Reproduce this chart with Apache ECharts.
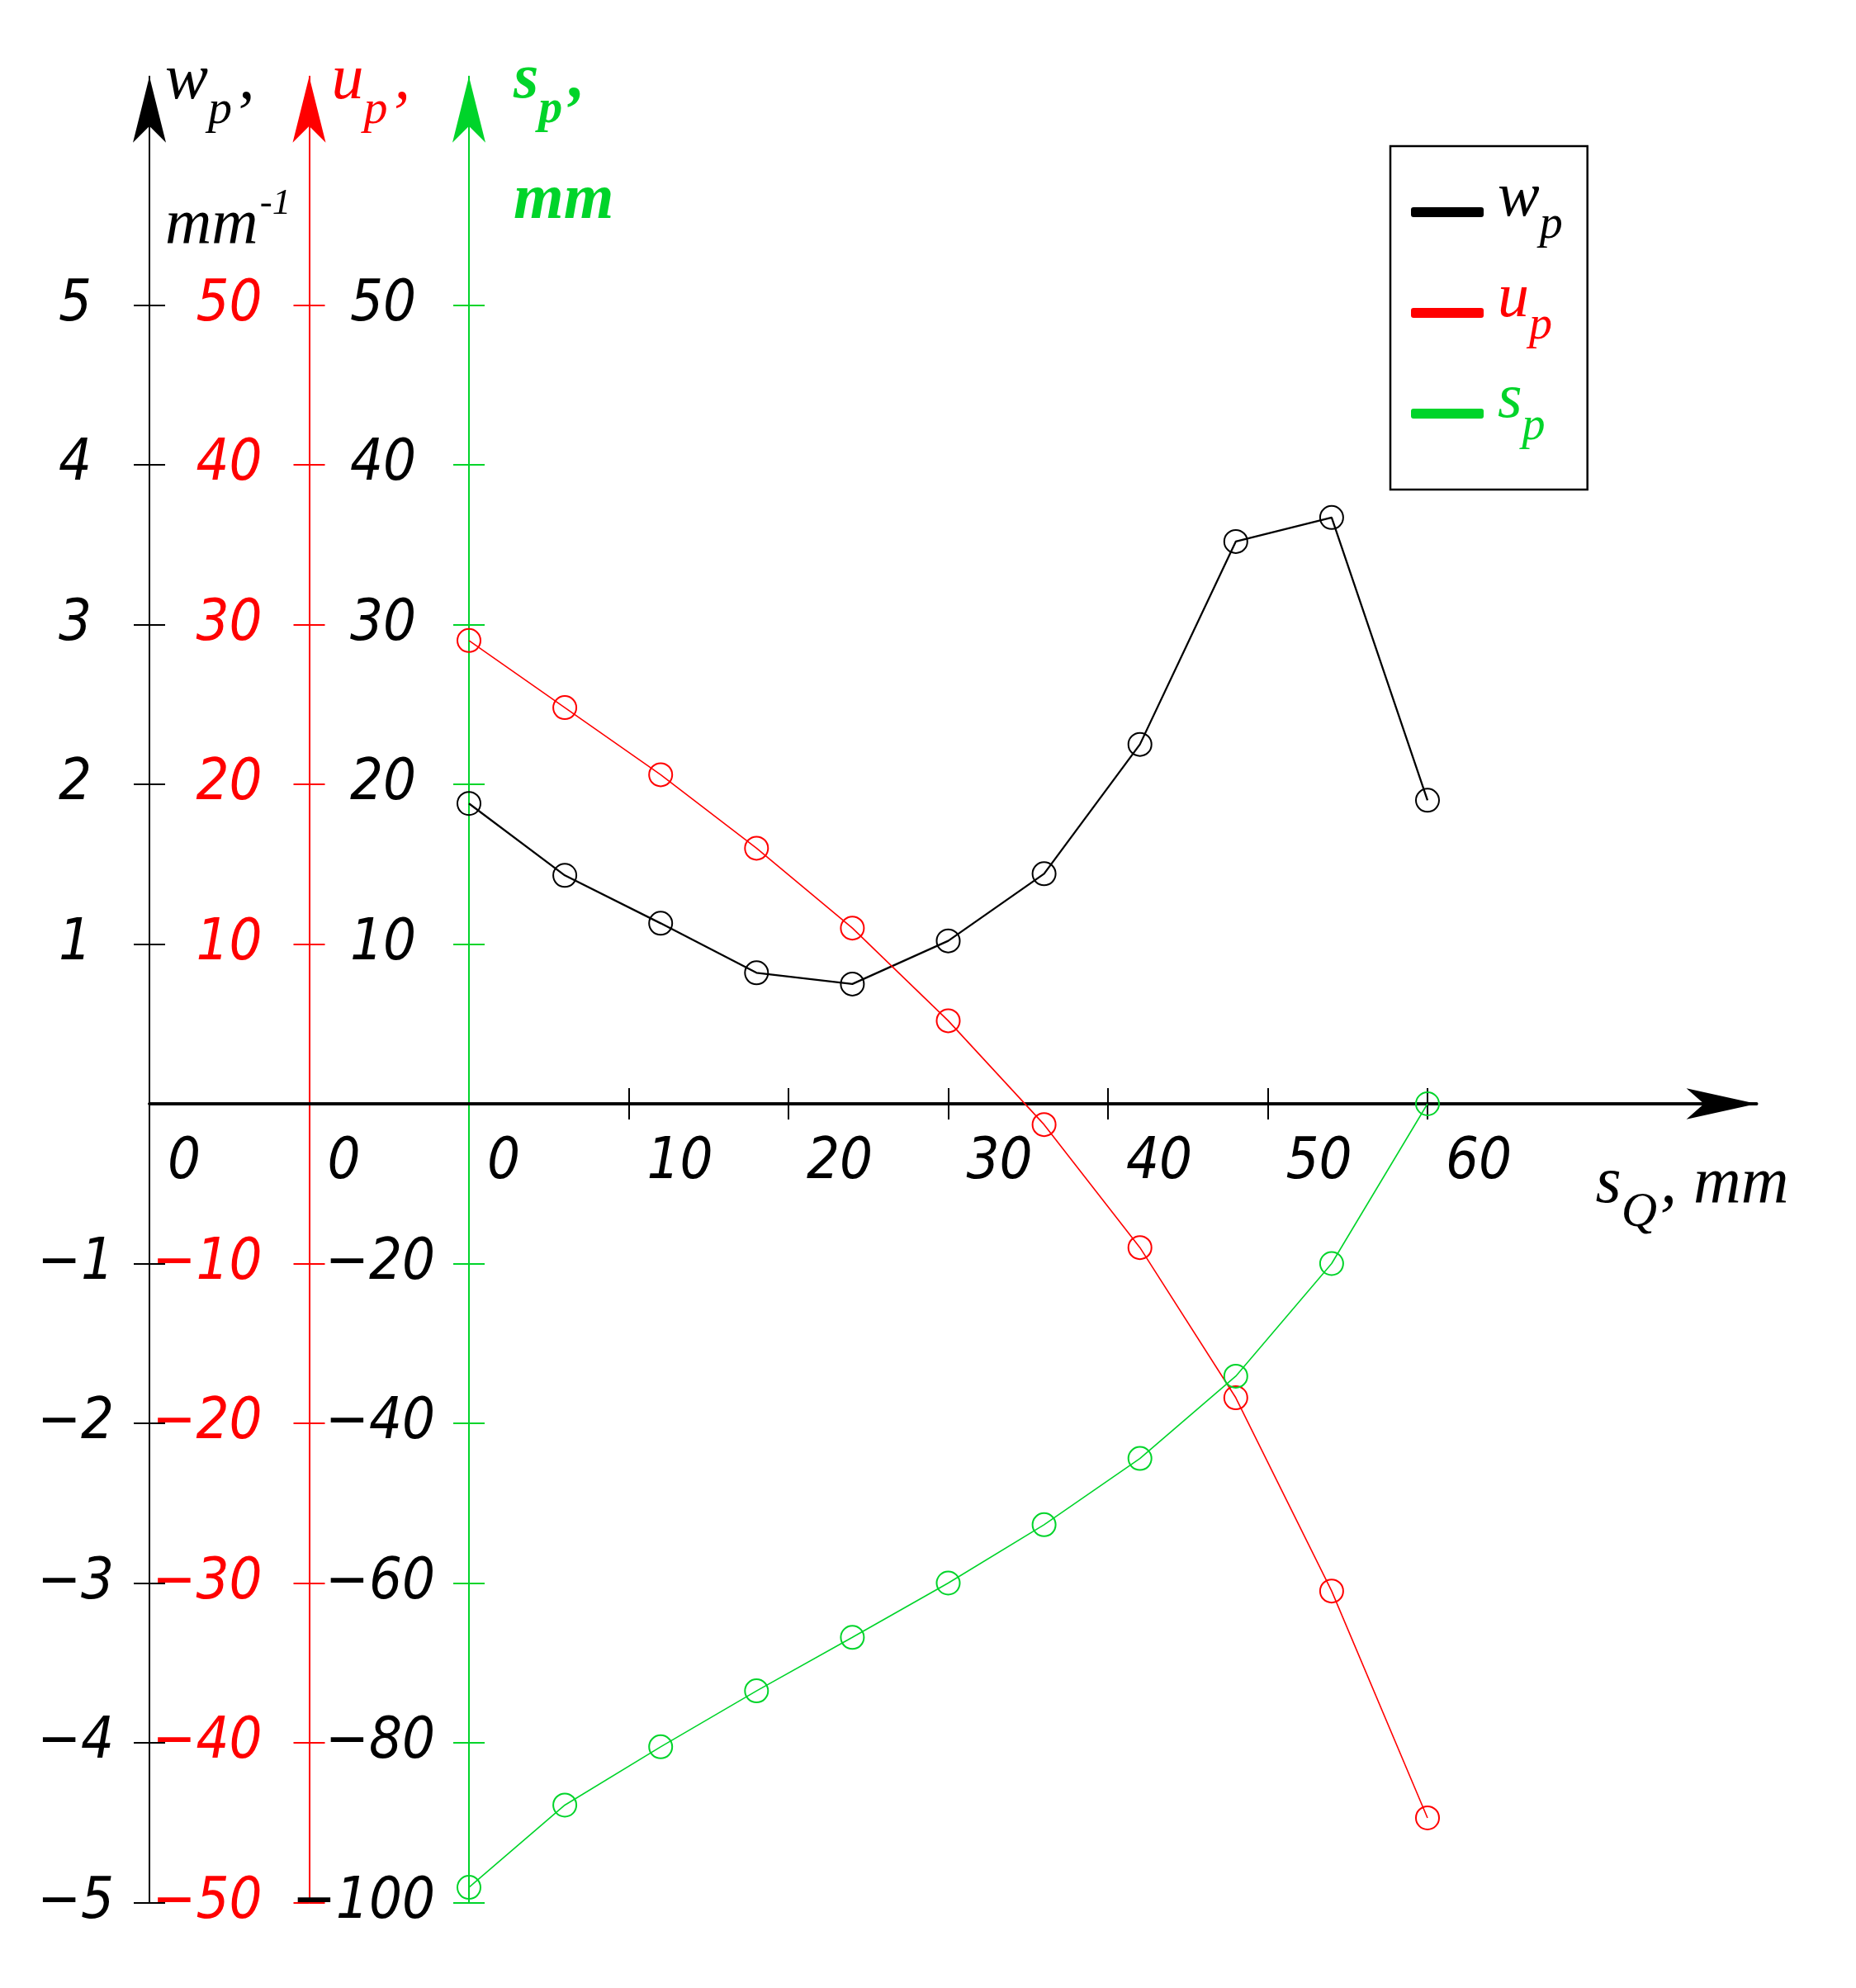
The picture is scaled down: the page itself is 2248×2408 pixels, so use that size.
<!DOCTYPE html>
<html>
<head>
<meta charset="utf-8">
<title>w_p, u_p, s_p vs s_Q</title>
<script src="https://cdn.jsdelivr.net/npm/echarts@6/dist/echarts.min.js"></script>
<style>
  html, body { margin: 0; padding: 0; background: #fff; }
  #chart { width: 2248px; height: 2408px; }
</style>
</head>
<body>
<div id="chart"></div>
<script>
// s_Q, mm
const sQ = [0, 6, 12, 18, 24, 30, 36, 42, 48, 54, 60]
// w_p, mm^-1
const wp = [1.88, 1.43, 1.13, 0.82, 0.75, 1.02, 1.44, 2.25, 3.52, 3.67, 1.90]
// u_p
const up = [29.0, 24.8, 20.6, 16.0, 11.0, 5.2, -1.3, -9.0, -18.4, -30.5, -44.7]
// s_p, mm
const sp = [-98.1, -87.8, -80.5, -73.5, -66.8, -60.0, -52.7, -44.4, -34.1, -20.0, 0]

// ticks and tick labels
const xTicks = [10, 20, 30, 40, 50, 60]
const xLabelValues = [-20, -10, 0, 10, 20, 30, 40, 50, 60]
const xLabels = ['0', '0', '0', '10', '20', '30', '40', '50', '60']
const wpTicks = [-5, -4, -3, -2, -1, 1, 2, 3, 4, 5]
const upTicks = [-50, -40, -30, -20, -10, 10, 20, 30, 40, 50]
const spTicks = [-100, -80, -60, -40, -20, 20, 40, 60, 80, 100]
const spLabels = ['−100', '−80', '−60', '−40', '−20', '10', '20', '30', '40', '50']

const names = ['w_p', 'u_p', 's_p']
const BLACK = '#000000'
const RED = '#ff0000'
const GREEN = '#00d42a'
const colors = [BLACK, RED, GREEN]

const numFont = "'Liberation Sans Narrow', 'DejaVu Sans Condensed', sans-serif"
const serif = "'Liberation Serif', 'DejaVu Serif', serif"

// the x axis sits on y = 0, which is 967.5 px above the grid bottom
const xAxisLift = -967.5

function numStyle(color, extra) {
  return Object.assign({ fontFamily: numFont, fontStyle: 'italic', fontSize: 70, color: color }, extra || {})
}

function serifStyle(color, size, extra) {
  return Object.assign({ fontFamily: serif, fontStyle: 'italic', fontSize: size, color: color, lineHeight: 80 }, extra || {})
}

// rich styles for a letter with a subscript
function subRich(color, weight) {
  const w = weight || 'normal'
  return {
    v: serifStyle(color, 78, { fontWeight: w, padding: [0, 0, 35, 0] }),
    s: serifStyle(color, 58, { fontWeight: w, padding: [35, 0, 0, 0] }),
    c: serifStyle(color, 78, { fontWeight: w, padding: [0, 0, 35, 8] })
  }
}

function signed(v) {
  return v < 0 ? '−' + Math.abs(v) : String(v)
}

// main y axes carry line, arrow, outer ticks, labels and symbol name
function mainY(opt) {
  return {
    type: 'value',
    position: 'left',
    offset: opt.offset,
    min: opt.min,
    max: opt.max,
    axisLine: {
      show: true,
      onZero: false,
      symbol: ['none', 'arrow'],
      symbolSize: [30, 80],
      lineStyle: { color: opt.color, width: 2 }
    },
    axisTick: {
      show: true,
      customValues: opt.ticks,
      length: 19,
      lineStyle: { color: opt.color, width: 2 }
    },
    axisLabel: {
      customValues: opt.ticks,
      showMinLabel: true,
      showMaxLabel: true,
      margin: opt.margin,
      formatter: function (v) {
        const txt = opt.label(v)
        return v > 0 ? '{p|' + txt + '}' : '{n|' + txt + '}'
      },
      rich: {
        p: numStyle(opt.labelColor, { padding: [0, opt.posShift, 0, 0] }),
        n: numStyle(opt.labelColor)
      }
    },
    splitLine: { show: false },
    name: opt.name,
    nameLocation: 'end',
    nameGap: 17,
    nameTextStyle: {
      align: 'left',
      verticalAlign: 'top',
      padding: [0, 0, 0, opt.namePad],
      rich: subRich(opt.color, opt.nameWeight)
    }
  }
}

// copies of the y axes: inner half of the cross ticks and the unit
function copyY(opt) {
  return {
    type: 'value',
    position: 'left',
    offset: opt.offset,
    min: opt.min,
    max: opt.max,
    axisLine: { show: true, onZero: false, lineStyle: { color: opt.color, width: 2 } },
    axisTick: {
      show: true,
      inside: true,
      customValues: opt.ticks,
      length: 19,
      lineStyle: { color: opt.color, width: 2 }
    },
    axisLabel: { show: false },
    splitLine: { show: false },
    name: opt.unit || '',
    nameLocation: 'end',
    nameGap: opt.unitGap || 0,
    nameTextStyle: {
      align: 'left',
      verticalAlign: 'top',
      padding: [0, 0, 0, opt.namePad],
      rich: {
        u: serifStyle(opt.color, 78, { fontWeight: opt.nameWeight || 'normal', padding: [28, 0, 0, 0] }),
        e: serifStyle(opt.color, 45, { padding: [0, 0, 28, 2] })
      }
    }
  }
}

const yDefs = [
  {
    offset: 0, min: -5, max: 6.43, color: BLACK, labelColor: BLACK, ticks: wpTicks,
    label: signed, margin: 43, posShift: 27,
    name: '{v|w}{s|p}{c|,}', namePad: 19,
    unit: '{u|mm}{e|-1}', unitGap: -128
  },
  {
    offset: -193.5, min: -50, max: 64.3, color: RED, labelColor: RED, ticks: upTicks,
    label: signed, margin: 57, posShift: 0,
    name: '{v|u}{s|p}{c|,}', namePad: 27
  },
  {
    offset: -387, min: -100, max: 128.6, color: GREEN, labelColor: BLACK, ticks: spTicks,
    label: function (v) { return spLabels[spTicks.indexOf(v)] },
    margin: 41, posShift: 23,
    name: '{v|s}{s|p}{c|,}', namePad: 54, nameWeight: 'bold',
    unit: '{u|mm}', unitGap: -97
  }
]

const yAxes = yDefs.map(mainY).concat(yDefs.map(copyY))

const xAxes = [
  {
    type: 'value',
    position: 'bottom',
    offset: xAxisLift,
    min: -20,
    max: 80.6,
    axisLine: {
      show: true,
      onZero: false,
      symbol: ['none', 'arrow'],
      symbolSize: [28, 85],
      lineStyle: { color: BLACK, width: 3.5 }
    },
    axisTick: { show: true, customValues: xTicks, length: 19, lineStyle: { color: BLACK, width: 2 } },
    axisLabel: {
      customValues: xLabelValues,
      showMinLabel: true,
      margin: 37,
      align: 'left',
      padding: [0, 0, 0, 22],
      fontFamily: numFont,
      fontStyle: 'italic',
      fontSize: 70,
      color: BLACK,
      formatter: function (v) { return xLabels[xLabelValues.indexOf(v)] }
    },
    splitLine: { show: false },
    name: '{v|s}{s|Q}{c|, mm}',
    nameLocation: 'end',
    nameGap: -195,
    nameTextStyle: {
      align: 'left',
      verticalAlign: 'top',
      padding: [75, 0, 0, 0],
      rich: {
        v: serifStyle(BLACK, 80, { padding: [0, 0, 35, 0] }),
        s: serifStyle(BLACK, 60, { padding: [35, 0, 0, 0] }),
        c: serifStyle(BLACK, 80, { padding: [0, 0, 35, 4] })
      }
    }
  },
  {
    type: 'value',
    position: 'bottom',
    offset: xAxisLift,
    min: -20,
    max: 80.6,
    axisLine: { show: true, onZero: false, lineStyle: { color: BLACK, width: 3.5 } },
    axisTick: { show: true, inside: true, customValues: xTicks, length: 19, lineStyle: { color: BLACK, width: 2 } },
    axisLabel: { show: false },
    splitLine: { show: false }
  }
]

const seriesValues = [wp, up, sp]
const lineWidths = [2.3, 1.6, 1.6]

const series = names.map(function (name, i) {
  return {
    name: name,
    type: 'line',
    xAxisIndex: 0,
    yAxisIndex: i,
    data: sQ.map(function (x, j) { return [x, seriesValues[i][j]] }),
    symbol: 'circle',
    symbolSize: 28,
    showAllSymbol: true,
    itemStyle: { color: 'rgba(255,255,255,0)', borderColor: colors[i], borderWidth: 2 },
    lineStyle: { color: colors[i], width: lineWidths[i] },
    emphasis: { disabled: true },
    z: 5
  }
})

const legendRich = {}
colors.forEach(function (c, i) {
  legendRich['v' + i] = serifStyle(c, 76, { lineHeight: 76, padding: [0, 0, 32, 12] })
  legendRich['s' + i] = serifStyle(c, 56, { lineHeight: 76, padding: [32, 0, 0, 0] })
})

const option = {
  backgroundColor: '#ffffff',
  animation: false,
  grid: {
    left: 181,
    right: 120.4,
    top: 92.8,
    bottom: 103.5,
    outerBoundsMode: 'none'
  },
  legend: {
    orient: 'vertical',
    left: 1684,
    top: 177,
    padding: [26, 30, 38, 25],
    itemWidth: 88,
    itemHeight: 12,
    itemGap: 14,
    borderColor: BLACK,
    borderWidth: 2.5,
    selectedMode: false,
    data: names.map(function (n, i) {
      return { name: n, icon: 'roundRect', itemStyle: { color: colors[i], borderWidth: 0 } }
    }),
    formatter: function (n) {
      const i = names.indexOf(n)
      const parts = n.split('_')
      return '{v' + i + '|' + parts[0] + '}{s' + i + '|' + parts[1] + '}'
    },
    textStyle: { fontFamily: serif, fontStyle: 'italic', rich: legendRich }
  },
  xAxis: xAxes,
  yAxis: yAxes,
  series: series
}

const chart = echarts.init(document.getElementById('chart'), null, { renderer: 'canvas' })
chart.setOption(option)
</script>
</body>
</html>
